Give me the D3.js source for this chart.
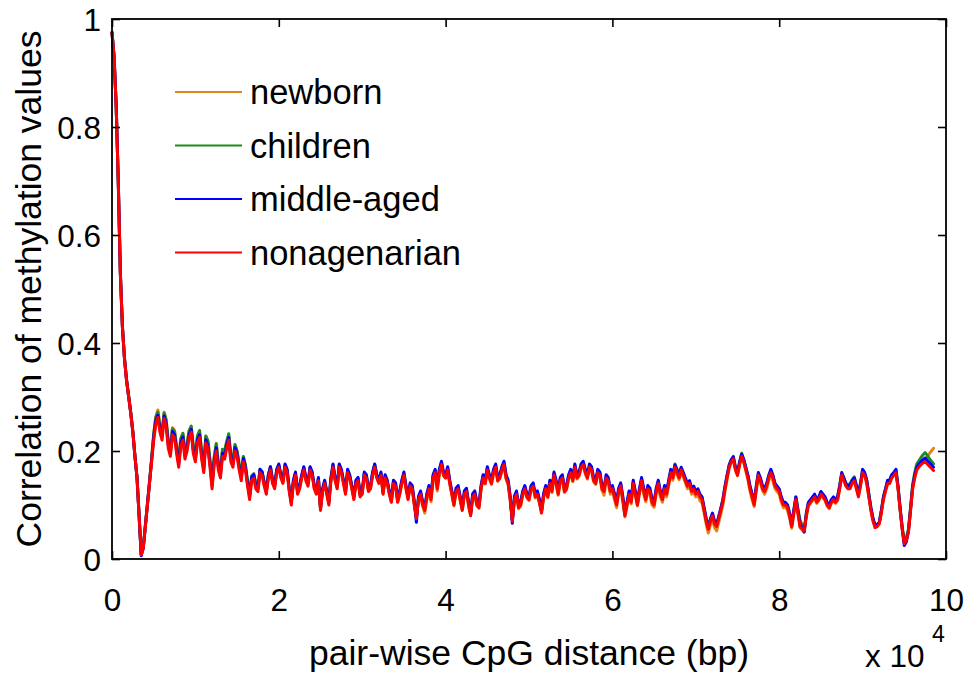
<!DOCTYPE html>
<html>
<head>
<meta charset="utf-8">
<script src="https://cdn.jsdelivr.net/npm/d3@7/dist/d3.min.js"></script>
<style>
  html, body { margin: 0; padding: 0; background: #fff; }
  svg { display: block; }
  text { font-family: "Liberation Sans", Arial, Helvetica, sans-serif; fill: #000; }
</style>
</head>
<body>
<svg id="chart" width="970" height="679"></svg>
<script>
// Pair-wise CpG distance grid (bp), one sample every 250 bp
const distanceStep = 250;
const distanceBp = d3.range(0, 98501, distanceStep);

// Correlation of methylation values per age group (one row = 5,000 bp)
const newborn = [
  0.975,0.93,0.84,0.70,0.53,0.43,0.372,0.332,0.302,0.272,0.237,0.192,0.152,0.082,0.01,0.022,0.062,0.103,0.144,0.188,
  0.233,0.263,0.276,0.249,0.235,0.272,0.258,0.219,0.205,0.243,0.238,0.209,0.185,0.224,0.232,0.199,0.214,0.238,0.245,0.208,
  0.195,0.228,0.236,0.198,0.172,0.227,0.218,0.183,0.142,0.187,0.212,0.178,0.163,0.203,0.198,0.215,0.228,0.19,0.182,0.21,
  0.198,0.174,0.155,0.188,0.172,0.143,0.118,0.152,0.156,0.136,0.13,0.165,0.16,0.14,0.125,0.154,0.17,0.144,0.134,0.163,
  0.172,0.152,0.143,0.172,0.163,0.128,0.104,0.142,0.158,0.123,0.132,0.152,0.168,0.147,0.138,0.167,0.158,0.132,0.122,0.147,
  0.092,0.127,0.142,0.122,0.104,0.147,0.172,0.147,0.132,0.172,0.163,0.142,0.123,0.162,0.152,0.132,0.113,0.142,0.147,0.117,
  0.121,0.157,0.152,0.127,0.131,0.157,0.173,0.152,0.142,0.157,0.121,0.151,0.142,0.121,0.106,0.142,0.137,0.106,0.12,0.141,
  0.157,0.132,0.112,0.136,0.13,0.1,0.078,0.108,0.118,0.098,0.085,0.11,0.125,0.106,0.145,0.156,0.126,0.157,0.176,0.155,
  0.15,0.164,0.139,0.119,0.098,0.124,0.128,0.108,0.09,0.119,0.124,0.098,0.082,0.113,0.118,0.098,0.094,0.128,0.15,0.139,
  0.163,0.148,0.138,0.158,0.168,0.144,0.149,0.163,0.173,0.148,0.137,0.107,0.072,0.108,0.118,0.093,0.098,0.118,0.128,0.113,
  0.108,0.128,0.133,0.113,0.12,0.103,0.087,0.113,0.128,0.113,0.139,0.123,0.153,0.138,0.118,0.143,0.148,0.123,0.128,0.148,
  0.158,0.143,0.168,0.148,0.153,0.168,0.173,0.158,0.148,0.168,0.163,0.143,0.138,0.157,0.152,0.127,0.118,0.146,0.14,0.12,
  0.125,0.11,0.095,0.12,0.13,0.105,0.078,0.097,0.118,0.102,0.138,0.118,0.098,0.122,0.14,0.12,0.106,0.125,0.12,0.1,
  0.096,0.12,0.135,0.115,0.105,0.125,0.115,0.136,0.155,0.146,0.166,0.156,0.147,0.161,0.152,0.141,0.13,0.135,0.12,0.125,
  0.115,0.12,0.108,0.104,0.085,0.064,0.048,0.063,0.072,0.058,0.052,0.068,0.083,0.1,0.125,0.147,0.168,0.178,0.185,0.166,
  0.154,0.174,0.19,0.179,0.163,0.147,0.126,0.11,0.097,0.126,0.152,0.141,0.127,0.12,0.13,0.145,0.156,0.144,0.13,0.125,
  0.12,0.105,0.095,0.096,0.09,0.075,0.057,0.082,0.108,0.083,0.058,0.054,0.05,0.078,0.098,0.103,0.108,0.113,0.103,0.108,
  0.118,0.113,0.108,0.098,0.093,0.103,0.108,0.103,0.108,0.13,0.157,0.148,0.138,0.133,0.134,0.145,0.15,0.134,0.118,0.138,
  0.162,0.156,0.14,0.115,0.09,0.072,0.06,0.062,0.066,0.088,0.112,0.128,0.142,0.142,0.152,0.158,0.162,0.132,0.092,0.058,
  0.03,0.038,0.052,0.092,0.132,0.152,0.168,0.174,0.178,0.182,0.185,0.19,0.195,0.2,0.205
];

const children = [
  0.975,0.93,0.84,0.70,0.53,0.43,0.371,0.331,0.301,0.271,0.236,0.191,0.151,0.081,0.008,0.022,0.062,0.102,0.143,0.185,
  0.23,0.262,0.272,0.246,0.232,0.27,0.256,0.217,0.204,0.241,0.236,0.207,0.184,0.222,0.233,0.198,0.212,0.237,0.246,0.207,
  0.194,0.228,0.238,0.198,0.172,0.228,0.219,0.183,0.143,0.188,0.214,0.178,0.162,0.203,0.2,0.218,0.232,0.192,0.182,0.212,
  0.2,0.176,0.156,0.19,0.174,0.144,0.12,0.154,0.158,0.138,0.132,0.166,0.162,0.142,0.126,0.156,0.171,0.146,0.136,0.165,
  0.174,0.155,0.145,0.174,0.164,0.129,0.105,0.144,0.159,0.125,0.134,0.154,0.169,0.149,0.139,0.169,0.159,0.134,0.124,0.149,
  0.094,0.128,0.143,0.123,0.104,0.148,0.174,0.149,0.134,0.174,0.164,0.144,0.124,0.164,0.154,0.134,0.114,0.144,0.149,0.119,
  0.124,0.158,0.154,0.128,0.133,0.159,0.175,0.154,0.144,0.159,0.123,0.154,0.144,0.124,0.108,0.144,0.139,0.108,0.123,0.143,
  0.158,0.134,0.114,0.138,0.133,0.103,0.078,0.113,0.123,0.104,0.093,0.118,0.134,0.114,0.154,0.164,0.134,0.164,0.178,0.158,
  0.153,0.168,0.143,0.123,0.102,0.128,0.133,0.113,0.092,0.123,0.128,0.104,0.083,0.118,0.123,0.103,0.098,0.133,0.154,0.144,
  0.168,0.154,0.143,0.164,0.173,0.149,0.153,0.168,0.178,0.154,0.142,0.113,0.073,0.113,0.123,0.098,0.103,0.123,0.133,0.118,
  0.113,0.133,0.138,0.118,0.123,0.108,0.088,0.118,0.133,0.118,0.143,0.128,0.158,0.143,0.123,0.148,0.153,0.128,0.133,0.153,
  0.163,0.148,0.173,0.153,0.158,0.173,0.178,0.163,0.153,0.173,0.168,0.148,0.143,0.163,0.158,0.133,0.128,0.153,0.148,0.128,
  0.133,0.118,0.103,0.128,0.138,0.113,0.083,0.103,0.123,0.108,0.143,0.123,0.103,0.128,0.148,0.128,0.113,0.133,0.128,0.108,
  0.103,0.128,0.143,0.123,0.113,0.133,0.123,0.143,0.164,0.155,0.176,0.166,0.154,0.168,0.158,0.148,0.138,0.143,0.128,0.133,
  0.123,0.128,0.118,0.113,0.093,0.073,0.058,0.073,0.083,0.068,0.063,0.078,0.093,0.11,0.133,0.154,0.173,0.183,0.19,0.17,
  0.158,0.178,0.196,0.184,0.168,0.154,0.133,0.118,0.103,0.133,0.158,0.148,0.133,0.128,0.138,0.154,0.163,0.153,0.138,0.133,
  0.128,0.113,0.103,0.103,0.098,0.083,0.064,0.09,0.115,0.092,0.072,0.063,0.055,0.083,0.103,0.108,0.113,0.118,0.108,0.113,
  0.123,0.118,0.113,0.103,0.098,0.108,0.114,0.11,0.115,0.135,0.158,0.15,0.14,0.136,0.14,0.147,0.152,0.137,0.12,0.14,
  0.165,0.158,0.145,0.12,0.094,0.074,0.062,0.064,0.068,0.09,0.115,0.13,0.145,0.146,0.156,0.16,0.165,0.135,0.094,0.06,
  0.032,0.04,0.056,0.096,0.138,0.16,0.176,0.182,0.188,0.193,0.197,0.192,0.186,0.181,0.176
];

const middleAged = [
  0.975,0.93,0.84,0.70,0.53,0.43,0.37,0.33,0.30,0.27,0.235,0.19,0.15,0.08,0.006,0.02,0.062,0.101,0.142,0.183,
  0.226,0.256,0.266,0.241,0.226,0.265,0.25,0.211,0.196,0.236,0.23,0.201,0.176,0.216,0.226,0.191,0.205,0.231,0.24,0.201,
  0.186,0.221,0.23,0.191,0.166,0.221,0.21,0.176,0.136,0.181,0.206,0.171,0.156,0.196,0.19,0.211,0.225,0.186,0.176,0.206,
  0.195,0.171,0.151,0.186,0.17,0.141,0.116,0.151,0.156,0.136,0.131,0.166,0.161,0.141,0.126,0.156,0.171,0.146,0.136,0.166,
  0.176,0.156,0.146,0.176,0.166,0.131,0.106,0.146,0.161,0.126,0.136,0.156,0.171,0.151,0.141,0.171,0.161,0.136,0.126,0.151,
  0.095,0.131,0.146,0.126,0.106,0.151,0.176,0.151,0.136,0.176,0.166,0.146,0.126,0.166,0.156,0.136,0.116,0.146,0.151,0.121,
  0.126,0.161,0.156,0.131,0.136,0.161,0.176,0.156,0.146,0.161,0.126,0.156,0.146,0.126,0.111,0.146,0.141,0.111,0.126,0.146,
  0.161,0.136,0.116,0.141,0.136,0.106,0.068,0.116,0.126,0.106,0.096,0.121,0.136,0.116,0.156,0.166,0.136,0.166,0.181,0.161,
  0.156,0.171,0.146,0.126,0.106,0.131,0.136,0.116,0.096,0.126,0.131,0.106,0.085,0.121,0.126,0.106,0.101,0.136,0.156,0.146,
  0.171,0.156,0.146,0.166,0.176,0.151,0.156,0.171,0.181,0.156,0.146,0.116,0.066,0.116,0.126,0.101,0.106,0.126,0.136,0.121,
  0.116,0.136,0.141,0.121,0.126,0.111,0.09,0.121,0.136,0.121,0.146,0.131,0.161,0.146,0.126,0.151,0.156,0.131,0.136,0.156,
  0.166,0.151,0.176,0.156,0.161,0.176,0.181,0.166,0.156,0.176,0.171,0.151,0.146,0.166,0.161,0.136,0.131,0.156,0.151,0.131,
  0.136,0.121,0.106,0.131,0.141,0.116,0.085,0.106,0.126,0.111,0.146,0.126,0.106,0.131,0.151,0.131,0.116,0.136,0.131,0.111,
  0.106,0.131,0.146,0.126,0.116,0.136,0.126,0.146,0.166,0.155,0.174,0.165,0.157,0.17,0.16,0.15,0.14,0.145,0.13,0.135,
  0.125,0.13,0.12,0.115,0.095,0.075,0.058,0.074,0.085,0.07,0.064,0.079,0.094,0.11,0.135,0.155,0.174,0.184,0.189,0.17,
  0.16,0.18,0.194,0.184,0.17,0.155,0.136,0.12,0.105,0.135,0.16,0.15,0.136,0.13,0.14,0.155,0.166,0.155,0.14,0.135,
  0.13,0.115,0.105,0.105,0.1,0.085,0.063,0.09,0.115,0.09,0.063,0.058,0.05,0.085,0.105,0.11,0.115,0.12,0.11,0.115,
  0.125,0.12,0.115,0.105,0.1,0.11,0.115,0.11,0.115,0.135,0.16,0.15,0.14,0.135,0.136,0.145,0.15,0.136,0.122,0.14,
  0.166,0.16,0.146,0.12,0.095,0.075,0.062,0.064,0.068,0.09,0.115,0.13,0.146,0.146,0.156,0.16,0.166,0.134,0.094,0.056,
  0.025,0.032,0.052,0.092,0.134,0.155,0.17,0.176,0.18,0.184,0.187,0.182,0.178,0.174,0.17
];

const nonagenarian = [
  0.975,0.93,0.84,0.70,0.53,0.43,0.37,0.33,0.30,0.27,0.235,0.19,0.15,0.08,0.008,0.02,0.06,0.10,0.14,0.18,
  0.22,0.25,0.262,0.235,0.22,0.26,0.245,0.205,0.19,0.23,0.225,0.195,0.17,0.21,0.22,0.185,0.20,0.225,0.235,0.195,
  0.18,0.215,0.225,0.185,0.16,0.215,0.205,0.17,0.13,0.175,0.20,0.165,0.15,0.19,0.185,0.205,0.22,0.18,0.17,0.20,
  0.19,0.165,0.145,0.18,0.165,0.135,0.11,0.145,0.15,0.13,0.125,0.16,0.155,0.135,0.12,0.15,0.165,0.14,0.13,0.16,
  0.17,0.15,0.14,0.17,0.16,0.125,0.10,0.14,0.155,0.12,0.13,0.15,0.165,0.145,0.135,0.165,0.155,0.13,0.12,0.145,
  0.09,0.125,0.14,0.12,0.10,0.145,0.17,0.145,0.13,0.17,0.16,0.14,0.12,0.16,0.15,0.13,0.11,0.14,0.145,0.115,
  0.12,0.155,0.15,0.125,0.13,0.155,0.17,0.15,0.14,0.155,0.12,0.15,0.14,0.12,0.105,0.14,0.135,0.105,0.12,0.14,
  0.155,0.13,0.11,0.135,0.13,0.10,0.075,0.11,0.12,0.10,0.09,0.115,0.13,0.11,0.15,0.16,0.13,0.16,0.175,0.155,
  0.15,0.165,0.14,0.12,0.10,0.125,0.13,0.11,0.09,0.12,0.125,0.10,0.08,0.115,0.12,0.10,0.095,0.13,0.15,0.14,
  0.165,0.15,0.14,0.16,0.17,0.145,0.15,0.165,0.175,0.15,0.14,0.11,0.07,0.11,0.12,0.095,0.10,0.12,0.13,0.115,
  0.11,0.13,0.135,0.115,0.12,0.105,0.085,0.115,0.13,0.115,0.14,0.125,0.155,0.14,0.12,0.145,0.15,0.125,0.13,0.15,
  0.16,0.145,0.17,0.15,0.155,0.17,0.175,0.16,0.15,0.17,0.165,0.145,0.14,0.16,0.155,0.13,0.125,0.15,0.145,0.125,
  0.13,0.115,0.10,0.125,0.135,0.11,0.08,0.10,0.12,0.105,0.14,0.12,0.10,0.125,0.145,0.125,0.11,0.13,0.125,0.105,
  0.10,0.125,0.14,0.12,0.11,0.13,0.12,0.14,0.16,0.15,0.17,0.16,0.15,0.165,0.155,0.145,0.135,0.14,0.125,0.13,
  0.12,0.125,0.115,0.11,0.09,0.07,0.055,0.07,0.08,0.065,0.06,0.075,0.09,0.105,0.13,0.15,0.17,0.18,0.185,0.165,
  0.155,0.175,0.19,0.18,0.165,0.15,0.13,0.115,0.10,0.13,0.155,0.145,0.13,0.125,0.135,0.15,0.16,0.15,0.135,0.13,
  0.125,0.11,0.10,0.10,0.095,0.08,0.06,0.085,0.11,0.085,0.06,0.056,0.052,0.08,0.10,0.105,0.11,0.115,0.105,0.11,
  0.12,0.115,0.11,0.10,0.095,0.105,0.11,0.105,0.11,0.13,0.155,0.145,0.135,0.13,0.13,0.14,0.145,0.13,0.115,0.135,
  0.16,0.155,0.14,0.115,0.09,0.07,0.058,0.06,0.065,0.085,0.11,0.125,0.14,0.14,0.15,0.155,0.16,0.13,0.09,0.055,
  0.028,0.035,0.05,0.09,0.13,0.15,0.165,0.17,0.175,0.178,0.18,0.176,0.172,0.168,0.164
];

const seriesNames = ["newborn", "children", "middle-aged", "nonagenarian"];
const seriesValues = [newborn, children, middleAged, nonagenarian];
const seriesColors = ["#e0861c", "#1f8a1f", "#0000ff", "#ff0000"];

const xTickValues = [0, 20000, 40000, 60000, 80000, 100000];
const xTickLabels = ["0", "2", "4", "6", "8", "10"];
const yTickValues = [0, 0.2, 0.4, 0.6, 0.8, 1];
const yTickLabels = ["0", "0.2", "0.4", "0.6", "0.8", "1"];

const xLabel = "pair-wise CpG distance (bp)";
const yLabel = "Correlation of methylation values";

// Plot frame
const frame = { left: 112, right: 946, top: 19, bottom: 559 };
const tickLen = 8;

const svg = d3.select("#chart");

const x = d3.scaleLinear().domain([0, 100000]).range([frame.left, frame.right]);
const y = d3.scaleLinear().domain([0, 1]).range([frame.bottom, frame.top]);

// Data lines, red drawn last so it sits on top
const line = d3.line()
  .defined((d, i) => i < distanceBp.length)
  .x((d, i) => x(distanceBp[i]))
  .y(d => y(d));

svg.append("g")
  .selectAll("path")
  .data(seriesValues)
  .join("path")
  .attr("d", d => line(d))
  .attr("fill", "none")
  .attr("stroke", (d, i) => seriesColors[i])
  .attr("stroke-width", 3)
  .attr("stroke-linejoin", "round")
  .attr("stroke-linecap", "round");

// Axes: inward ticks on all four sides
function styleAxis(g) {
  g.attr("font-family", null).attr("font-size", null);
  g.select(".domain").remove();
  g.selectAll(".tick line").attr("stroke", "#000").attr("stroke-width", 1.6);
}

const gBottom = svg.append("g")
  .attr("transform", `translate(0,${frame.bottom})`)
  .call(d3.axisBottom(x).tickValues(xTickValues)
    .tickFormat((d, i) => xTickLabels[i]).tickSize(-tickLen))
  .call(styleAxis);
gBottom.selectAll(".tick text")
  .attr("y", 52).attr("dy", null)
  .style("font-size", "31.5px");

svg.append("g")
  .attr("transform", `translate(0,${frame.top})`)
  .call(d3.axisTop(x).tickValues(xTickValues).tickFormat("").tickSize(-tickLen))
  .call(styleAxis);

const gLeft = svg.append("g")
  .attr("transform", `translate(${frame.left},0)`)
  .call(d3.axisLeft(y).tickValues(yTickValues)
    .tickFormat((d, i) => yTickLabels[i]).tickSize(-tickLen))
  .call(styleAxis);
gLeft.selectAll(".tick text")
  .attr("x", -11).attr("dy", "0.36em")
  .style("font-size", "31.5px");

svg.append("g")
  .attr("transform", `translate(${frame.right},0)`)
  .call(d3.axisRight(y).tickValues(yTickValues).tickFormat("").tickSize(-tickLen))
  .call(styleAxis);

// Axes box
svg.append("rect")
  .attr("x", frame.left).attr("y", frame.top)
  .attr("width", frame.right - frame.left).attr("height", frame.bottom - frame.top)
  .attr("fill", "none").attr("stroke", "#000").attr("stroke-width", 1.8);

// Axis titles
svg.append("text")
  .attr("x", (frame.left + frame.right) / 2).attr("y", 665)
  .attr("text-anchor", "middle")
  .style("font-size", "35.5px")
  .text(xLabel);

svg.append("text")
  .attr("transform", `translate(41,${(frame.top + frame.bottom) / 2}) rotate(-90)`)
  .attr("text-anchor", "middle")
  .style("font-size", "35.5px")
  .text(yLabel);

// Exponent of the distance axis
svg.append("text")
  .attr("x", 865).attr("y", 667)
  .style("font-size", "31.5px")
  .text("x 10");
svg.append("text")
  .attr("x", 932).attr("y", 642)
  .style("font-size", "23px")
  .text("4");

// Legend
const legend = svg.append("g");
const legendRows = legend.selectAll("g")
  .data(seriesNames)
  .join("g")
  .attr("transform", (d, i) => `translate(0,${92 + i * 53.5})`);
legendRows.append("line")
  .attr("x1", 175).attr("x2", 242)
  .attr("stroke", (d, i) => seriesColors[i])
  .attr("stroke-width", 2);
legendRows.append("text")
  .attr("x", 250).attr("dy", "0.35em")
  .style("font-size", "34.5px")
  .text(d => d);
</script>
</body>
</html>
